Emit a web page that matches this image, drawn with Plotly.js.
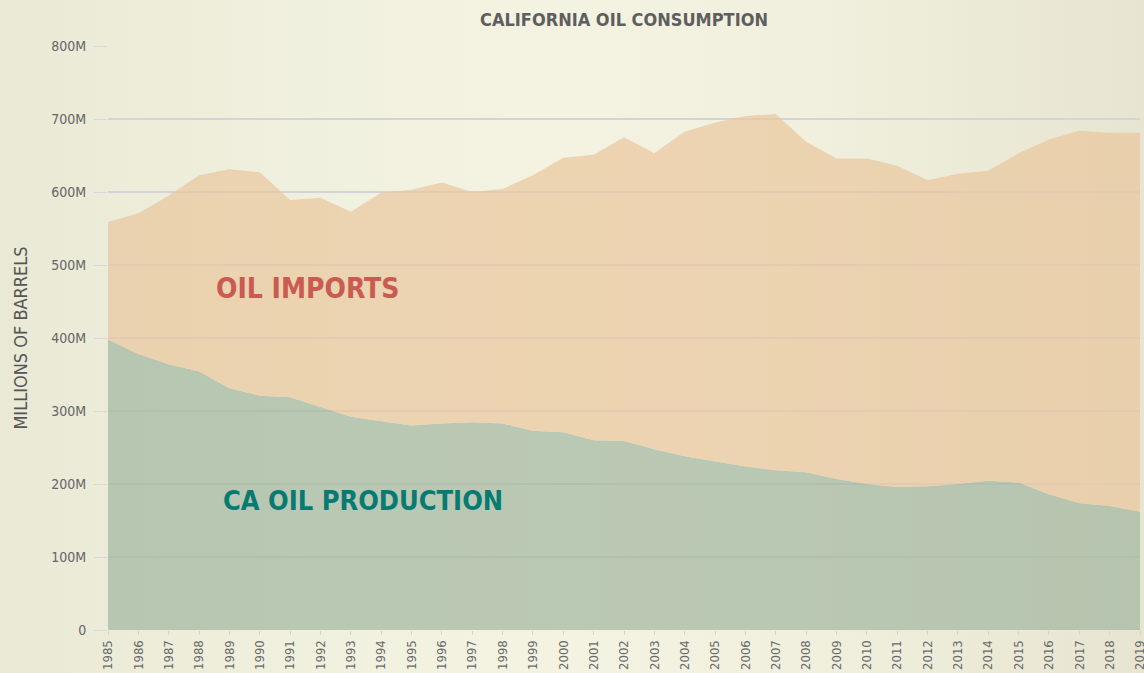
<!DOCTYPE html>
<html>
<head>
<meta charset="utf-8">
<script src="https://cdn.plot.ly/plotly-3.0.1.min.js"></script>
<style>
  html, body { margin:0; padding:0; width:1144px; height:673px; overflow:hidden;
    background: linear-gradient(to right, #e9e9d6 0%, #f1f1df 30%, #f4f3e2 50%, #f1f0de 70%, #e7e5d1 100%); }
  #chart { width:1144px; height:673px; }
</style>
</head>
<body>
<div id="chart"></div>
<script>
const years = [1985,1986,1987,1988,1989,1990,1991,1992,1993,1994,1995,1996,1997,1998,1999,2000,2001,2002,2003,2004,2005,2006,2007,2008,2009,2010,2011,2012,2013,2014,2015,2016,2017,2018,2019];
// CA oil production (millions of barrels)
const production = [398,378,364,354,331,321,319,305,292,286,280,283,284.5,283,273,271,260,259,247.5,238,230.5,224,219,216,207,200,196,197,200,204.5,202,186,173.5,170,162];
// Total consumption (production + imports), millions of barrels
const consumption = [559,571,595,623,631,627,589,592,573,599,603,613,600,604,623,647,651,675,653,683,695,704,707,669,646,646,636,616,625,629,653,672,684,681,681];
const imports = consumption.map((c, i) => c - production[i]);
const yTicks = [0,100,200,300,400,500,600,700,800];
const yTickText = ['0','100M','200M','300M','400M','500M','600M','700M','800M'];

const M = 1e6;
const font = '"DejaVu Sans Condensed", "Liberation Sans Narrow", "Arial Narrow", sans-serif';

const traces = [
  {
    x: years, y: production.map(v => v * M), type: 'scatter', mode: 'lines',
    stackgroup: 'one', name: 'CA Oil Production',
    line: { width: 0, color: 'rgba(161,182,159,0.7)' },
    fillcolor: 'rgba(161,182,159,0.7)', hoverinfo: 'x+y'
  },
  {
    x: years, y: imports.map(v => v * M), type: 'scatter', mode: 'lines',
    stackgroup: 'one', name: 'Oil Imports',
    line: { width: 0, color: 'rgba(233,198,156,0.7)' },
    fillcolor: 'rgba(233,198,156,0.7)', hoverinfo: 'x+y'
  }
];

const layout = {
  width: 1144, height: 673,
  margin: { l: 108, r: 4, t: 46, b: 43 },
  paper_bgcolor: 'rgba(0,0,0,0)',
  plot_bgcolor: 'rgba(0,0,0,0)',
  showlegend: false,
  title: {
    text: 'CALIFORNIA OIL CONSUMPTION',
    font: { family: font, size: 18, color: '#5e5e5e', weight: 'bold' },
    x: 0.5455, xanchor: 'center', y: 0.97, yanchor: 'middle'
  },
  xaxis: {
    range: [1985, 2019],
    tickmode: 'array', tickvals: years, ticktext: years.map(String),
    tickangle: -90,
    tickfont: { family: font, size: 13, color: '#6a6a6a' },
    ticks: 'outside', ticklen: 4, tickcolor: '#d6d3d6',
    ticklabelstandoff: 0,
    ticklabeloverflow: 'allow',
    showgrid: false, zeroline: false, showline: false
  },
  yaxis: {
    range: [0, 800 * M],
    tickmode: 'array',
    tickvals: yTicks.map(v => v * M),
    ticktext: yTickText,
    tickfont: { family: font, size: 14, color: '#666666' },
    ticks: 'outside', ticklen: 13, tickcolor: '#d9d6dc',
    ticklabelstandoff: 5,
    showgrid: true, gridcolor: '#d6d2da', gridwidth: 1.5,
    zeroline: false, showline: false,
    title: { text: 'MILLIONS OF BARRELS', font: { family: font, size: 18, color: '#555555' }, standoff: 18 }
  },
  annotations: [
    { x: 1991.56, y: 468 * M, xref: 'x', yref: 'y', text: 'OIL IMPORTS', showarrow: false,
      font: { family: font, size: 28, color: '#c95b51', weight: 'bold' } },
    { x: 1993.4, y: 178 * M, xref: 'x', yref: 'y', text: 'CA OIL PRODUCTION', showarrow: false,
      font: { family: font, size: 27, color: '#077a72', weight: 'bold' } }
  ]
};

Plotly.newPlot('chart', traces, layout, { displayModeBar: false, staticPlot: true });
</script>
</body>
</html>
